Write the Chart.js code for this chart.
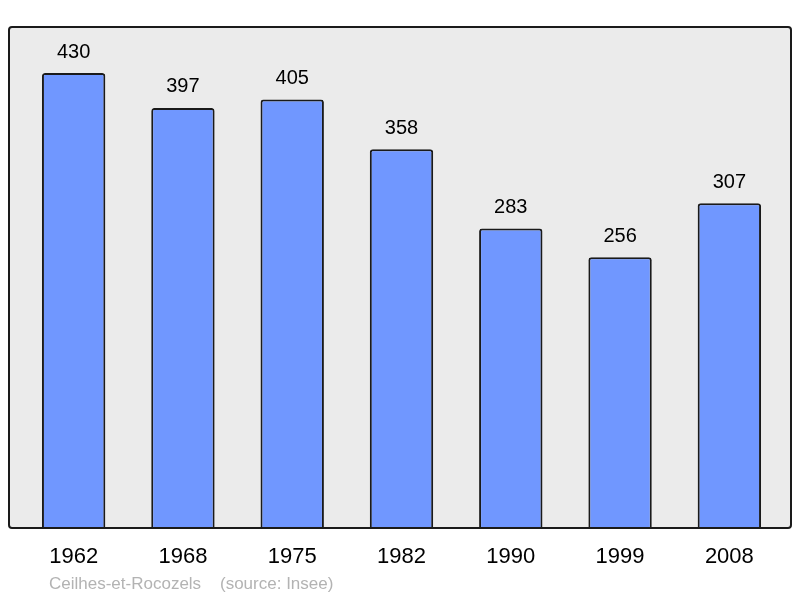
<!DOCTYPE html>
<html>
<head>
<meta charset="utf-8">
<script src="https://cdn.jsdelivr.net/npm/chart.js@4/dist/chart.umd.min.js"></script>
<style>
    html, body { margin: 0; padding: 0; background: #fff; }
    #wrap { width: 800px; height: 598px; position: relative; }
</style>
</head>
<body>
<div id="wrap"><canvas id="popChart"></canvas></div>
<script>
const years = ['1962', '1968', '1975', '1982', '1990', '1999', '2008'];
const population = [430, 397, 405, 358, 283, 256, 307];
const footerText = 'Ceilhes-et-Rocozels    (source: Insee)';

// frame around the plot (grey box)
const frame = { left: 9, top: 27, right: 791, bottom: 528 };

const framePlugin = {
    id: 'frame',
    beforeDraw(chart) {
        const c = chart.ctx;
        c.save();
        c.fillStyle = '#ebebeb';
        c.beginPath();
        c.roundRect(frame.left, frame.top, frame.right - frame.left, frame.bottom - frame.top, 3);
        c.fill();
        c.restore();
    },
    afterDraw(chart) {
        const c = chart.ctx;
        const x = chart.scales.x;
        const y = chart.scales.y;
        c.save();
        c.strokeStyle = '#1a1a1a';
        c.lineWidth = 2;
        c.beginPath();
        c.roundRect(frame.left, frame.top, frame.right - frame.left, frame.bottom - frame.top, 3);
        c.stroke();

        // value labels above bars
        c.fillStyle = '#000';
        c.textAlign = 'center';
        c.textBaseline = 'middle';
        c.font = '20px "Liberation Sans", Arial, sans-serif';
        population.forEach((v, i) => {
            c.fillText(String(v), x.getPixelForValue(i), y.getPixelForValue(v) - 21);
        });

        // year labels
        c.font = '22px "Liberation Sans", Arial, sans-serif';
        years.forEach((yr, i) => {
            c.fillText(yr, x.getPixelForValue(i), 557);
        });

        // footer
        c.textAlign = 'left';
        c.fillStyle = '#b3b3b3';
        c.font = '17px "Liberation Sans", Arial, sans-serif';
        c.fillText(footerText, 49, 584);
        c.restore();
    }
};

new Chart(document.getElementById('popChart'), {
    type: 'bar',
    data: {
        labels: years,
        datasets: [{
            data: population,
            backgroundColor: '#7097ff',
            borderColor: '#1a1a1a',
            borderWidth: 2,
            borderRadius: 3,
            borderSkipped: 'bottom',
            barPercentage: 0.58,
            categoryPercentage: 1.0
        }]
    },
    options: {
        responsive: true,
        maintainAspectRatio: false,
        animation: false,
        layout: { padding: { left: 19, right: 16, top: 27, bottom: 70 } },
        plugins: { legend: { display: false }, tooltip: { enabled: false } },
        scales: {
            x: { display: false },
            y: { display: false, min: 0, max: 473.5 }
        }
    },
    plugins: [framePlugin]
});
</script>
</body>
</html>
